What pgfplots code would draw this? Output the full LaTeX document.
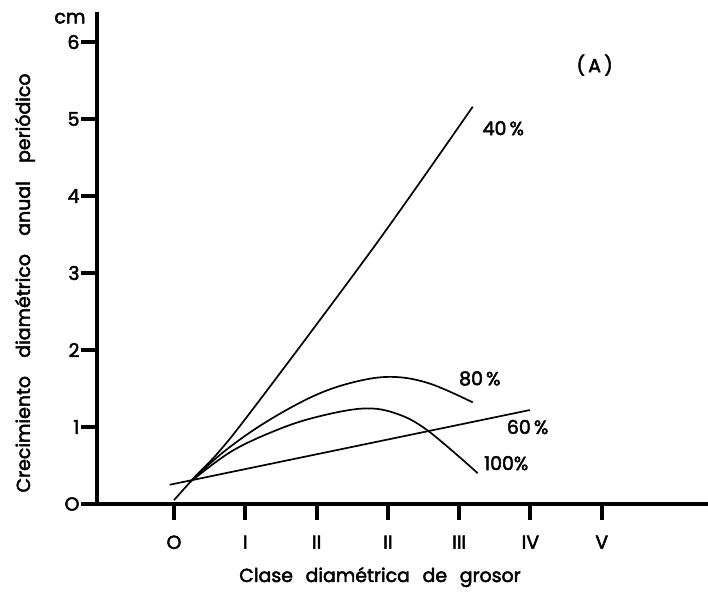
\documentclass[border=0pt]{standalone}
\usepackage{pgfplots}
\pgfplotsset{compat=1.18}
\usepackage{fontspec}
\setmainfont{Poppins}
\newcommand{\lbl}{\fontsize{19}{21}\selectfont\addfontfeatures{FakeBold=2.5}}
\begin{document}
\begin{tikzpicture}
\useasboundingbox (-97bp,-91bp) rectangle (611bp,504bp);
\begin{axis}[
  scale only axis, width=611bp, height=492bp,
  xmin=-1.08, xmax=7.49, ymin=0, ymax=6.39,
  axis lines=left, axis line style={line width=3.8bp, -},
  xtick={0,...,6}, xticklabels={O,I,II,II,III,IV,V},
  ytick={0,...,6}, yticklabels={O,1,2,3,4,5,6},
  tick align=outside, major tick length=16bp,
  tick style={line width=4bp, black},
  major tick style={line width=4bp, black},
  ticklabel style={font=\lbl},
  xticklabel style={yshift=-12bp},
  yticklabel style={xshift=2bp},
  clip=false,
]
\addplot[black, line width=1.7bp, smooth, tension=0.5] coordinates {(0.0,0.05) (0.27,0.33) (0.88,0.96) (2.79,3.32) (4.19,5.16)};
\addplot[black, line width=1.7bp, smooth, tension=0.6] coordinates {(0.22,0.28) (0.7,0.68) (1.3,1.07) (2.0,1.42) (2.6,1.60) (3.1,1.65) (3.6,1.56) (4.19,1.32)};
\addplot[black, line width=1.7bp, smooth, tension=0.6] coordinates {(0.22,0.28) (0.8,0.68) (1.44,0.96) (2.0,1.13) (2.65,1.24) (3.1,1.18) (3.55,0.96) (4.26,0.40)};
\addplot[black, line width=1.7bp] coordinates {(-0.06,0.25) (4.99,1.22)};
\node[font=\lbl, anchor=west] at (axis cs:4.28,4.88) {40\,\%};
\node[font=\lbl, anchor=west] at (axis cs:3.95,1.63) {80\,\%};
\node[font=\lbl, anchor=west] at (axis cs:4.62,1.0) {60\,\%};
\node[font=\lbl, anchor=west] at (axis cs:4.30,0.53) {100\%};
\node[font=\lbl] at (axis cs:5.90,5.70) {(\,A\,)};
\node[font=\lbl] at (axis cs:-1.46,6.31) {cm};
\node[font=\lbl] at (axis cs:2.89,-0.95) {Clase\hspace{0.4em} diamétrica\hspace{0.4em} de\hspace{0.4em} grosor};
\node[font=\lbl, rotate=90] at (axis cs:-2.09,2.87) {Crecimiento\hspace{0.7em} diamétrico\hspace{0.7em} anual\hspace{0.7em} periódico};
\end{axis}
\end{tikzpicture}
\end{document}
